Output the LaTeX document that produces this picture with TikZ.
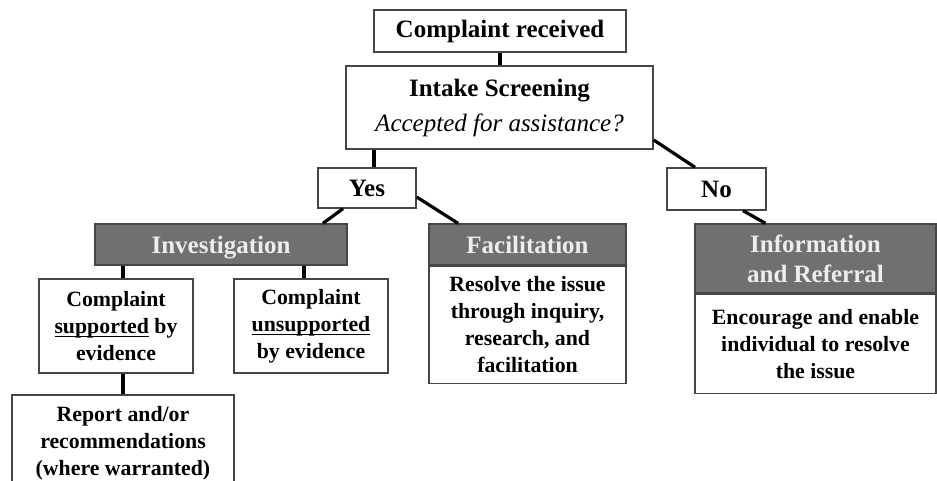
\documentclass[tikz,border=0pt]{standalone}
\usepackage{fontspec}
\setmainfont{Liberation Serif}
\usepackage{tikz}
\usetikzlibrary{positioning}
\definecolor{hdrgray}{RGB}{112,112,112}
\definecolor{edgegray}{RGB}{70,70,70}
\newcommand{\ulword}[1]{\underline{\smash{#1}}}
\tikzstyle{box} = [draw=edgegray, line width=0.7pt, fill=white, align=center, inner sep=0pt, font=\fontsize{12.5}{15}\selectfont\bfseries]
\tikzstyle{head} = [box, fill=hdrgray, text=white!93!black]
\tikzstyle{body} = [box, font=\fontsize{10.9}{13.5}\selectfont\bfseries]
\tikzstyle{conn} = [draw, line width=1.6pt]

\begin{document}
\begin{tikzpicture}[x=0.5pt, y=-0.5pt]
    \clip (0,0) rectangle (937,481);
    % Place nodes
    \node [box, minimum width=126pt, minimum height=21pt] (recv) at (500,31) {Complaint received};
    \node [box, minimum width=153.5pt, minimum height=41.5pt, font=\fontsize{12.5}{17.5}\selectfont] (intake) at (499.5,107.5) {\textbf{Intake Screening}\\\textit{Accepted for assistance?}};
    \node [box, minimum width=49pt, minimum height=20pt] (yes) at (367,188) {Yes};
    \node [box, minimum width=49.5pt, minimum height=21pt] (no) at (716.5,189) {No};

    \node [head, minimum width=126pt, minimum height=20.5pt, text height=9pt, text depth=0pt] (invhead) at (221,244.5) {Investigation};
    \node [head, minimum width=98.5pt, minimum height=20.5pt, text height=9pt, text depth=0pt] (fachead) at (527.5,244.5) {Facilitation};
    \node [body, minimum width=98.5pt, minimum height=58.5pt, below=0pt of fachead] (facbody) {Resolve the issue\\through inquiry,\\research, and\\facilitation};
    \node [head, minimum width=120.5pt, minimum height=34.5pt] (infohead) at (815.5,258.5) {Information\\and Referral};
    \node [body, minimum width=120.5pt, minimum height=49.5pt, below=0pt of infohead] (infobody) {Encourage and enable\\individual to resolve\\the issue};

    \node [body, minimum width=77pt, minimum height=47pt] (sup) at (116,326) {Complaint\\\ulword{supported} by\\evidence};
    \node [body, minimum width=77pt, minimum height=47pt] (unsup) at (311,326) {Complaint\\\ulword{unsupported}\\by evidence};
    \node [body, minimum width=111pt, minimum height=48pt] (report) at (123,443) {Report and/or\\recommendations\\(where warranted)};

    % Connectors
    \path [conn] (recv.south) -- (recv.south |- intake.north);
    \path [conn] ([xshift=3.5pt]yes.north) -- ([xshift=3.5pt]yes.north |- intake.south);
    \path [conn] ([yshift=-16.25pt]intake.east) -- ([xshift=-10.75pt]no.north);
    \path [conn] ([xshift=-12pt]yes.south) -- ([xshift=51pt]invhead.north);
    \path [conn] ([yshift=-4.5pt]yes.east) -- ([xshift=-34.75pt]fachead.north);
    \path [conn] ([xshift=13.25pt]no.south) -- ([xshift=-25pt]infohead.north);
    \path [conn] ([xshift=3.5pt]sup.north) -- ([xshift=3.5pt]sup.north |- invhead.south);
    \path [conn] ([xshift=-3.5pt]unsup.north) -- ([xshift=-3.5pt]unsup.north |- invhead.south);
    \path [conn] ([xshift=3.5pt]sup.south) -- ([xshift=3.5pt]sup.south |- report.north);

\end{tikzpicture}
\end{document}
